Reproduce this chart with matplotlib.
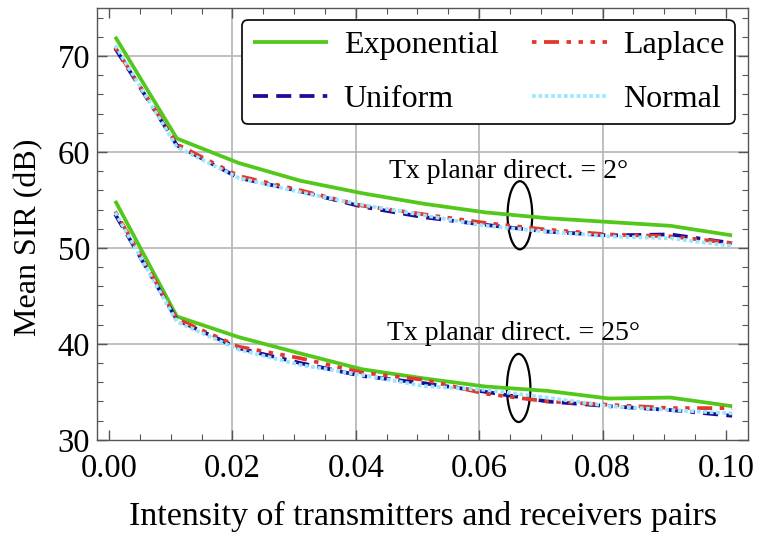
import numpy as np
import matplotlib
matplotlib.use("Agg")
import matplotlib.pyplot as plt
from matplotlib.patches import Ellipse
from matplotlib.ticker import MultipleLocator, FormatStrFormatter

plt.rcParams['font.family'] = ['Liberation Serif', 'DejaVu Serif']

# intensity of Tx/Rx pairs
intensity = [0.001, 0.011, 0.021, 0.031, 0.041, 0.051, 0.061, 0.071, 0.081, 0.091, 0.101]

# mean SIR (dB), Tx planar directivity = 2 deg
exp_2 = [72.0, 61.4, 58.85, 57.0, 55.7, 54.6, 53.7, 53.1, 52.7, 52.3, 51.3]
uni_2 = [70.8, 60.7, 57.3, 55.9, 54.3, 53.2, 52.4, 51.7, 51.3, 51.4, 50.5]
lap_2 = [70.9, 60.8, 57.5, 56.0, 54.4, 53.5, 52.6, 51.9, 51.4, 51.2, 50.5]
nor_2 = [71.1, 60.5, 57.3, 55.8, 54.5, 53.4, 52.3, 51.7, 51.2, 51.0, 50.2]

# mean SIR (dB), Tx planar directivity = 25 deg
exp_25 = [54.9, 42.85, 40.7, 39.0, 37.35, 36.4, 35.55, 35.1, 34.3, 34.4, 33.5]
uni_25 = [53.5, 42.5, 39.55, 38.0, 36.65, 35.9, 35.0, 34.0, 33.5, 33.1, 32.5]
lap_25 = [53.8, 42.6, 39.7, 38.5, 37.0, 36.25, 34.8, 34.0, 33.65, 33.3, 33.3]
nor_25 = [53.7, 42.3, 39.4, 37.8, 36.75, 35.6, 35.2, 34.4, 33.5, 33.1, 32.75]

labels = ["Exponential", "Uniform", "Laplace", "Normal"]
series_2 = [exp_2, uni_2, lap_2, nor_2]
series_25 = [exp_25, uni_25, lap_25, nor_25]

colors = ["#52c81a", "#1a0c96", "#e2372a", "#9be6ff"]
dashes = [None, (4, 2.2, 4, 2.2, 4, 2.2, 1.2, 2.2), (1.2, 2.0, 4, 2.0, 1.2, 2.0, 1.2, 2.0), (1.0, 0.7)]
lw = 2.7

fig = plt.figure(figsize=(7.58, 5.35), dpi=100)
ax = fig.add_axes([0.128, 0.178, 0.859, 0.807])

for lab, y2, y25, c, d in zip(labels, series_2, series_25, colors, dashes):
    kw = dict(color=c, lw=lw, solid_capstyle='butt', dash_capstyle='butt')
    l1, = ax.plot(intensity, y2, label=lab, **kw)
    l2, = ax.plot(intensity, y25, **kw)
    if d is not None:
        l1.set_dashes(d)
        l2.set_dashes(d)

# grid lines
for gx in [0.02, 0.04, 0.06, 0.08]:
    ax.axvline(gx, color='#b4b4b4', lw=1.2, zorder=0)
for gy in [40, 50, 60, 70]:
    ax.axhline(gy, color='#b4b4b4', lw=1.2, zorder=0)

ax.set_xlim(-0.00195, 0.1036)
ax.set_ylim(30, 75)
ax.xaxis.set_major_locator(MultipleLocator(0.02))
ax.xaxis.set_minor_locator(MultipleLocator(0.005))
ax.yaxis.set_major_locator(MultipleLocator(10))
ax.yaxis.set_minor_locator(MultipleLocator(2))
ax.xaxis.set_major_formatter(FormatStrFormatter('%.2f'))

ax.tick_params(which='both', direction='in', top=True, right=True, color='#555555')
ax.tick_params(which='major', length=7, width=1, labelsize=23.5)
ax.tick_params(axis='x', which='major', pad=10)
ax.tick_params(axis='y', which='major', pad=5)
ax.tick_params(which='minor', length=4, width=0.8)
for sp in ax.spines.values():
    sp.set_color('#555555')
    sp.set_linewidth(1.0)

ax.set_xlabel("Intensity of transmitters and receivers pairs", fontsize=24.5, labelpad=12)
ax.set_ylabel("Mean SIR (dB)", fontsize=23)
ax.yaxis.set_label_coords(-0.082, 0.47)

# group annotations
ax.text(0.0647, 58.0, "Tx planar direct. = 2°", fontsize=20, ha='center', va='center')
ax.add_patch(Ellipse((0.0666, 53.4), 0.0040, 7.1, fill=False, ec='black', lw=1.6))
ax.text(0.0655, 41.1, "Tx planar direct. = 25°", fontsize=20, ha='center', va='center')
ax.add_patch(Ellipse((0.0664, 35.4), 0.0038, 7.1, fill=False, ec='black', lw=1.6))

leg = ax.legend(loc='upper left', bbox_to_anchor=(0.2227, 0.9725), borderaxespad=0, ncol=2,
                fontsize=23, handlelength=2.35, handletextpad=0.5, columnspacing=1.05,
                labelspacing=0.77, borderpad=0.33, fancybox=True, framealpha=1.0,
                edgecolor='black')
leg.get_frame().set_linewidth(1.2)

fig.savefig("out.png", dpi=100)
